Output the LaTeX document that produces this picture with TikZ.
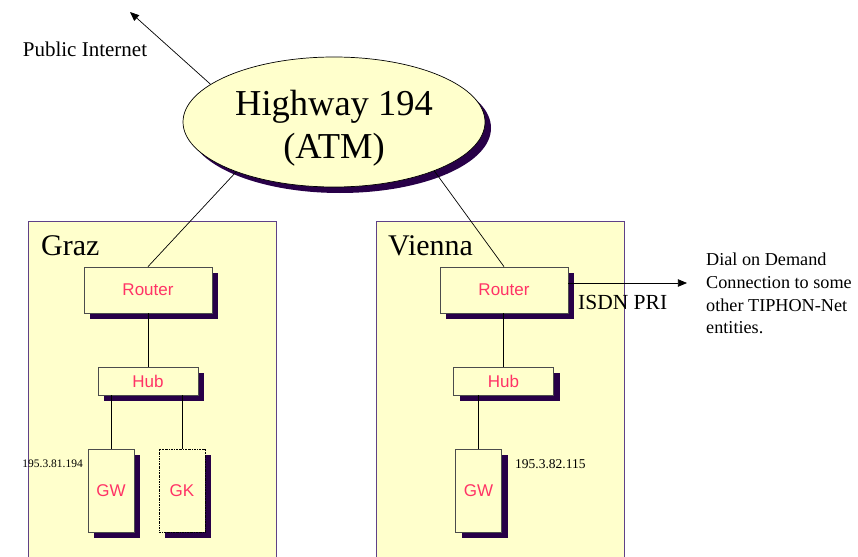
\documentclass[tikz,border=0pt]{standalone}
\usepackage{fontspec}
\setmainfont{Liberation Serif}
\setsansfont{Liberation Sans}
\usepackage{tikz}
\usetikzlibrary{positioning,arrows.meta,shapes.geometric,shadows}
\definecolor{padcol}{RGB}{255,255,204}
\definecolor{shadcol}{RGB}{40,0,72}
\definecolor{sitecol}{RGB}{95,65,135}
\definecolor{devtxt}{RGB}{255,51,102}
\tikzset{
  >={Triangle[length=3.2mm,width=2.6mm]},
  shd/.style={drop shadow={shadow xshift=6pt,shadow yshift=-6pt,
    fill=shadcol,opacity=1}},
  site/.style={draw=sitecol,fill=padcol,line width=0.5pt,anchor=north west,
    minimum width=248pt,minimum height=340pt,inner sep=0pt},
  sitelbl/.style={font=\fontsize{30}{32}\selectfont,anchor=base west,inner sep=0pt},
  dev/.style={draw=black!70,fill=padcol,line width=0.7pt,shd,inner sep=0pt,
    font=\sffamily\fontsize{17}{19}\selectfont,text=devtxt},
  router/.style={dev,minimum width=128pt,minimum height=46pt},
  hub/.style={dev,minimum width=100pt,minimum height=28pt},
  gwbox/.style={dev,minimum width=46pt,minimum height=83pt},
  gkbox/.style={gwbox,draw=black,dash pattern=on 2pt off 1pt on 0.6pt off 1pt},
  ipl/.style={inner sep=0pt},
  link/.style={line width=0.7pt,black},
  note/.style={font=\fontsize{18.2}{22.7}\selectfont,align=left,inner sep=0pt},
}
\begin{document}
\begin{tikzpicture}[x=1pt,y=-1pt]
  \useasboundingbox[fill=white] (0,0) rectangle (858,556);
  % sites
  \node[site] (graz) at (28,221) {};
  \node[site] (vie) at (376,221) {};
  \node[sitelbl] at (41,255) {Graz};
  \node[sitelbl] at (388,255) {Vienna};
  % backbone
  \node[ellipse,draw=black,fill=padcol,line width=0.7pt,shd,
    minimum width=302pt,minimum height=130pt] (atm) at (334,122) {};
  \node[font=\fontsize{36.5}{43}\selectfont,align=center] (atmlbl) at (334,128)
    {Highway 194\\(ATM)};
  % Graz devices
  \node[router] (grt) at (148,290) {Router};
  \node[hub] (ghub) at (148,381) {Hub};
  \node[gwbox] (ggw) at (111,490.5) {GW};
  \node[gkbox] (ggk) at (182,490.5) {GK};
  \node[ipl,anchor=east,font=\fontsize{11.5}{13}\selectfont] (gip) at (83,464) {195.3.81.194};
  % Vienna devices
  \node[router] (vrt) at (504,290) {Router};
  \node[hub] (vhub) at (503.5,381) {Hub};
  \node[gwbox] (vgw) at (478.5,490.5) {GW};
  \node[ipl,anchor=west,font=\fontsize{13.5}{15}\selectfont] (vip) at (515,464) {195.3.82.115};
  % links
  \draw[link] (atm.207) -- (grt.north);
  \draw[link] (atm.-26) -- (vrt.north);
  \draw[link] (grt.south) -- (ghub.north);
  \draw[link] (ghub.south -| ggw.north) -- (ggw.north);
  \draw[link] (ghub.south -| ggk.north) -- (ggk.north);
  \draw[link] (vrt.south -| vhub.north) -- (vhub.north);
  \draw[link] (vhub.south -| vgw.north) -- (vgw.north);
  % outside world
  \coordinate (inet) at (130,12);
  \draw[link,->] (atm.163) -- (inet);
  \node[font=\fontsize{21}{24}\selectfont,inner sep=0pt] (inetlbl) at (85,49) {Public Internet};
  \coordinate (dod) at (687,283);
  \draw[link,->] (vrt.east |- dod) -- (dod);
  \node[font=\fontsize{21.5}{24}\selectfont,anchor=base west,inner sep=0pt] (isdn) at (578,309) {ISDN PRI};
  \node[note,anchor=north west] (doddsc) at (706,253)
    {Dial on Demand\\Connection to some\\other TIPHON-Net\\entities.};
\end{tikzpicture}
\end{document}
